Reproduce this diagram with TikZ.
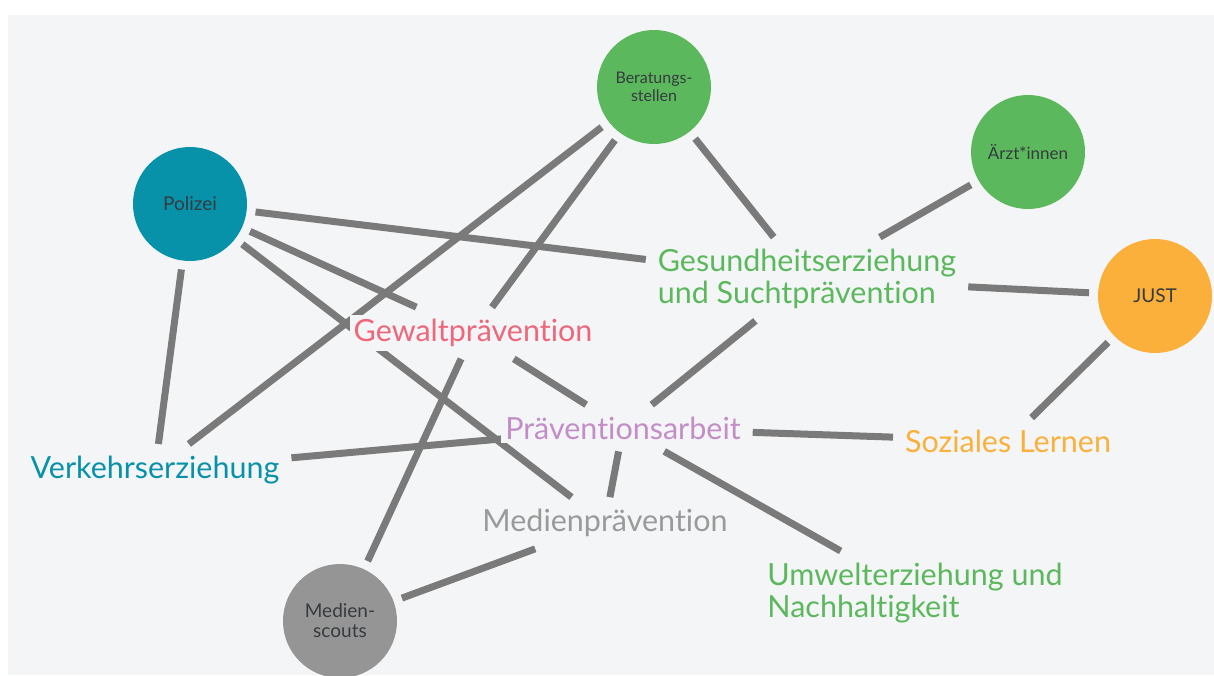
\documentclass[tikz,border=0pt]{standalone}
\usepackage{fontspec}
\setmainfont{Lato}[Ligatures={NoCommon,NoRare,NoDiscretionary},Contextuals=NoAlternate]
\definecolor{bg}{HTML}{F4F5F7}
\definecolor{edgegray}{HTML}{7A7A7A}
\definecolor{teal}{HTML}{0892AA}
\definecolor{grn}{HTML}{5CB85C}
\definecolor{orng}{HTML}{FBB03B}
\definecolor{pinkred}{HTML}{F0667A}
\definecolor{purp}{HTML}{C38DC7}
\definecolor{txtgray}{HTML}{9A9A9A}
\definecolor{scoutgray}{HTML}{959595}
\definecolor{circtext}{HTML}{353B3F}
\pgfdeclarelayer{bglayer}
\pgfdeclarelayer{edgelayer}
\pgfsetlayers{bglayer,edgelayer,main}
\tikzset{
  edge/.style={draw=edgegray, line width=7pt},
  circ/.style={circle, minimum size=114pt, inner sep=0pt, outer sep=9pt,
    font=\fontsize{19}{21}\selectfont, text=circtext, align=center},
  lbl/.style={fill=bg, inner sep=4pt, outer sep=8pt,
    font=\fontsize{30.5}{32}\selectfont, align=left},
}
\begin{document}
\begin{tikzpicture}[x=1pt,y=-1pt]
\useasboundingbox (0,0) rectangle (1214,675);
\clip (0,0) rectangle (1214,675);
\begin{pgfonlayer}{bglayer}
  \fill[white] (0,0) rectangle (1214,675);
  \fill[bg] (8,15) rectangle (1214,675);
\end{pgfonlayer}

% circles
\node[circ, fill=teal] (pol) at (190,204) {Polizei};
\node[circ, fill=grn, font=\fontsize{16}{18}\selectfont] (ber) at (654,87) {Beratungs-\\stellen};
\node[circ, fill=grn, font=\fontsize{17}{19}\selectfont] (arz) at (1028,152) {Ärzt*innen};
\node[circ, fill=orng] (just) at (1155,296) {JUST};
\node[circ, fill=scoutgray, font=\fontsize{19}{20}\selectfont] (scout) at (340,621) {Medien-\\scouts};

% labels
\node[lbl, text=grn] (ges) at (807,279) {Gesundheitserziehung\\und Suchtprävention};
\node[lbl, text=pinkred] (gew) at (473,333) {Gewaltprävention};
\node[lbl, text=purp] (pra) at (623,428) {Präventionsarbeit};
\node[lbl, text=orng] (soz) at (1008,441) {Soziales Lernen};
\node[lbl, text=teal] (ver) at (155,470) {Verkehrserziehung};
\node[lbl, text=txtgray] (med) at (605,523) {Medienprävention};
\node[lbl, text=grn] (umw) at (915,593) {Umwelterziehung und\\Nachhaltigkeit};

\begin{pgfonlayer}{edgelayer}
  \draw[edge] (pol) -- (ges);
  \draw[edge] (pol) -- (gew);
  \draw[edge] (pol) -- (med);
  \draw[edge] (pol) -- (ver);
  \draw[edge] (ber) -- (ver);
  \draw[edge] (ber) -- (gew);
  \draw[edge] (ber) -- (ges);
  \draw[edge] (arz) -- (ges);
  \draw[edge] (just) -- (ges);
  \draw[edge] (just) -- (soz);
  \draw[edge] (ges) -- (pra);
  \draw[edge] (pra) -- (soz);
  \draw[edge] (pra) -- (umw);
  \draw[edge] (pra) -- (med);
  \draw[edge, shorten >=-8pt] (ver) -- (pra);
  \draw[edge] (gew) -- (scout);
  \draw[edge] (scout) -- (med);
  \draw[edge] (gew) -- (pra);
\end{pgfonlayer}
\end{tikzpicture}
\end{document}
